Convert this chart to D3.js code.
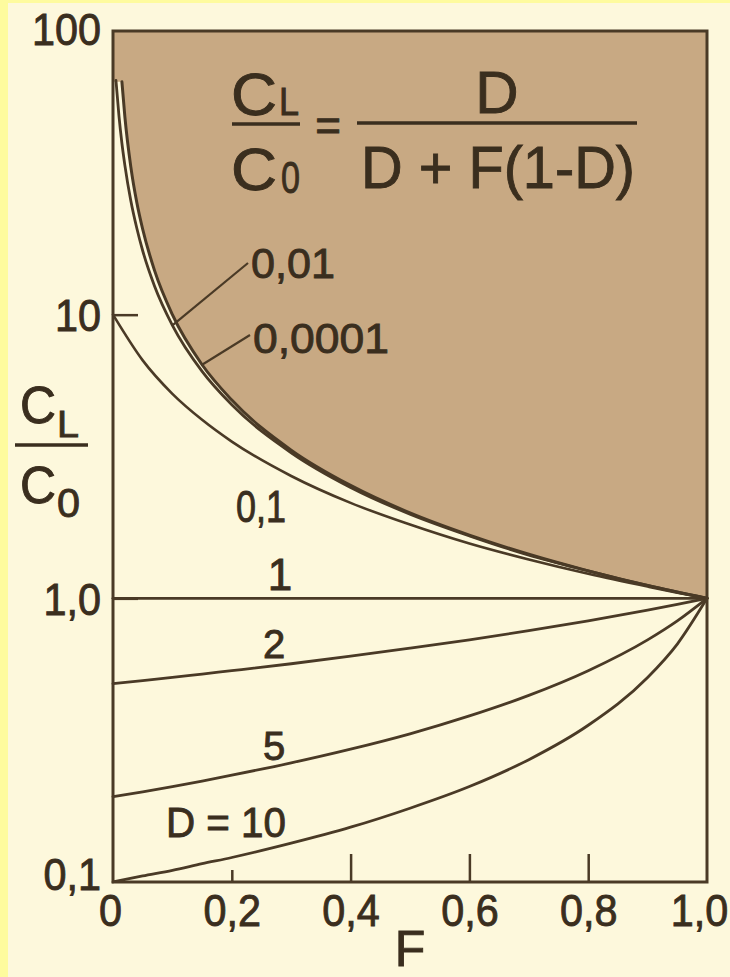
<!DOCTYPE html>
<html>
<head>
<meta charset="utf-8">
<script src="https://cdn.jsdelivr.net/npm/d3@7"></script>
<style>
  html, body { margin: 0; padding: 0; background: #fdf8dc; }
  svg { display: block; }
  text { font-family: "Liberation Sans", Arial, Helvetica, sans-serif; fill: #3a2e1e; stroke: #3a2e1e; stroke-width: 0.9px; }
</style>
</head>
<body>
<svg id="chart" width="730" height="977"></svg>
<script>
// Fraction of melt F on the x axis, enrichment C_L/C_0 on a log y axis
const xTicks = [0, 0.2, 0.4, 0.6, 0.8, 1.0];
const xTickLabels = ["0", "0,2", "0,4", "0,6", "0,8", "1,0"];
const yTicks = [0.1, 1, 10, 100];
const yTickLabels = ["0,1", "1,0", "10", "100"];

// Sample points along each curve (F, C_L/C_0)
const fGrid = [0, 0.05, 0.1, 0.15, 0.2, 0.3, 0.4, 0.5, 0.6, 0.7, 0.8, 0.9, 0.95, 1];
const fSteep01 = [0.005, 0.01, 0.015, 0.02, 0.03, 0.04, 0.05, 0.07, 0.1, 0.15, 0.2, 0.3, 0.4, 0.5, 0.6, 0.7, 0.8, 0.9, 1];
const fSteep0001 = [0.015, 0.02, 0.03, 0.04, 0.05, 0.07, 0.1, 0.15, 0.2, 0.3, 0.4, 0.5, 0.6, 0.7, 0.8, 0.9, 1];

const curveD0001 = [66.2, 49.8, 33.2, 24.9, 20.0, 14.3, 10.0, 6.66, 5.0, 3.33, 2.5, 2.0, 1.67, 1.43, 1.25, 1.11, 1.0];
const curveD001 = [66.9, 50.3, 40.2, 33.6, 25.2, 20.2, 16.8, 12.6, 9.17, 6.31, 4.81, 3.26, 2.46, 1.98, 1.66, 1.42, 1.25, 1.11, 1.0];
const curveD01 = [10, 6.90, 5.26, 4.26, 3.57, 2.70, 2.17, 1.82, 1.56, 1.37, 1.22, 1.10, 1.047, 1.0];
const curveD1 = [1, 1, 1, 1, 1, 1, 1, 1, 1, 1, 1, 1, 1, 1];
const curveD2 = [0.5, 0.513, 0.526, 0.541, 0.556, 0.588, 0.625, 0.667, 0.714, 0.769, 0.833, 0.909, 0.952, 1.0];
const curveD5 = [0.2, 0.208, 0.217, 0.227, 0.238, 0.263, 0.294, 0.333, 0.385, 0.455, 0.556, 0.714, 0.833, 1.0];
const curveD10 = [0.1, 0.105, 0.110, 0.116, 0.122, 0.137, 0.156, 0.182, 0.217, 0.270, 0.357, 0.526, 0.69, 1.0];

const zip = (fs, vs) => fs.map((f, i) => [f, vs[i]]);

const series = [
  { key: "0,0001", pts: zip(fSteep0001, curveD0001), w: 3 },
  { key: "0,01",   pts: zip(fSteep01, curveD001),   w: 2.8 },
  { key: "0,1",    pts: zip(fGrid, curveD01),       w: 2.6 },
  { key: "1",      pts: zip(fGrid, curveD1),        w: 2.8 },
  { key: "2",      pts: zip(fGrid, curveD2),        w: 2.8 },
  { key: "5",      pts: zip(fGrid, curveD5),        w: 2.8 },
  { key: "10",     pts: zip(fGrid, curveD10),       w: 2.8 }
];

const ink = "#4a3a26";
const tan = "#c8a983";

const svg = d3.select("#chart");
const W = 730, H = 977;
const m = { left: 113, right: 707, top: 31, bottom: 882 };

// page background with the yellow margin strips
svg.append("rect").attr("width", W).attr("height", H).attr("fill", "#fdf8dc");
svg.append("rect").attr("x", 0).attr("y", 0).attr("width", 8).attr("height", H).attr("fill", "#fefb9e");
svg.append("rect").attr("x", 0).attr("y", 0).attr("width", W).attr("height", 3).attr("fill", "#fefb9e");

const x = d3.scaleLinear().domain([0, 1]).range([m.left, m.right]);
const y = d3.scaleLog().domain([0.1, 100]).range([m.bottom, m.top]);

const line = d3.line().x(d => x(d[0])).y(d => y(d[1])).curve(d3.curveMonotoneX);

// shaded field above the D -> 0 limit curve
const limit = series[0].pts;
svg.append("path")
  .attr("d", "M" + x(0) + "," + y(100) +
        "L" + x(0) + "," + y(limit[0][1]) +
        "L" + line(limit).slice(1) +
        "L" + x(1) + "," + y(100) + "Z")
  .attr("fill", tan);

// curves
svg.append("g").selectAll("path").data(series).join("path")
  .attr("d", d => line(d.pts))
  .attr("fill", "none")
  .attr("stroke", ink)
  .attr("stroke-width", d => d.w)
  .attr("stroke-linejoin", "round")
  .attr("stroke-linecap", "round");

// plot frame
svg.append("rect")
  .attr("x", m.left).attr("y", m.top)
  .attr("width", m.right - m.left).attr("height", m.bottom - m.top)
  .attr("fill", "none").attr("stroke", ink).attr("stroke-width", 3);

// x axis
const xAxis = svg.append("g")
  .attr("transform", `translate(0,${m.bottom})`)
  .call(d3.axisBottom(x).tickValues(xTicks).tickFormat((d, i) => xTickLabels[i])
    .tickSize(-28).tickPadding(12));
xAxis.select(".domain").remove();
xAxis.selectAll(".tick line")
  .attr("stroke", ink).attr("stroke-width", 2.5)
  .attr("y2", d => (d === 0.2 ? -12 : -28))
  .style("display", d => (d === 0 || d === 1 ? "none" : null));
xAxis.selectAll(".tick text")
  .attr("font-size", 45)
  .attr("font-family", null)
  .attr("fill", null)
  .attr("transform", d => `translate(${d === 1 ? -8 : d === 0 ? -3 : 0},0) scale(0.92,1)`);

// y axis
const yAxis = svg.append("g")
  .attr("transform", `translate(${m.left},0)`)
  .call(d3.axisLeft(y).tickValues(yTicks).tickFormat((d, i) => yTickLabels[i])
    .tickSize(-25).tickPadding(13));
yAxis.select(".domain").remove();
yAxis.selectAll(".tick line")
  .attr("stroke", ink).attr("stroke-width", 2.5)
  .style("display", d => (d === 0.1 || d === 100 ? "none" : null));
yAxis.selectAll(".tick text")
  .attr("font-size", 45)
  .attr("font-family", null)
  .attr("fill", null)
  .attr("dy", "0.36em")
  .attr("transform", d => `translate(0,${d === 0.1 ? -9 : d === 100 ? -3 : 0}) scale(0.92,1)`);

// text helper
function txt(s, px, py, size, opts = {}) {
  const t = svg.append("text")
    .attr("x", px).attr("y", py)
    .attr("font-size", size)
    .attr("text-anchor", opts.anchor || "start")
    .text(s);
  if (opts.len) t.attr("textLength", opts.len).attr("lengthAdjust", "spacingAndGlyphs");
  return t;
}

// axis titles
txt("F", 410, 966, 50, { anchor: "middle" });
txt("C", 20, 423, 52, { len: 36 });
txt("L", 57, 437, 37, { len: 22 });
svg.append("line").attr("x1", 15).attr("x2", 88).attr("y1", 445).attr("y2", 445)
  .attr("stroke", "#3a2e1e").attr("stroke-width", 3.5);
txt("C", 20, 503, 52, { len: 36 });
txt("0", 57, 517, 40, { len: 23 });

// formula inside the shaded field
txt("C", 231, 115, 60, { len: 46 });
txt("L", 279, 115, 38, { len: 20 });
svg.append("line").attr("x1", 232).attr("x2", 300).attr("y1", 124).attr("y2", 124)
  .attr("stroke", "#3a2e1e").attr("stroke-width", 3.5);
txt("C", 231, 190, 60, { len: 46 });
txt("0", 281, 193, 44, { len: 19 });
txt("=", 328, 141, 44, { anchor: "middle" });
svg.append("line").attr("x1", 357).attr("x2", 637).attr("y1", 123).attr("y2", 123)
  .attr("stroke", "#3a2e1e").attr("stroke-width", 3.5);
txt("D", 497, 113, 60, { anchor: "middle" });
txt("D + F(1-D)", 361, 188, 60, { len: 274 });

// curve labels
const labelDefs = [
  { s: "0,01", x: 251, y: 278, size: 43, len: 84 },
  { s: "0,0001", x: 253, y: 353, size: 43, len: 136 },
  { s: "0,1", x: 236, y: 522, size: 44, len: 50 },
  { s: "1", x: 280, y: 590, size: 44, anchor: "middle" },
  { s: "2", x: 274, y: 658, size: 40, anchor: "middle" },
  { s: "5", x: 274, y: 760, size: 40, anchor: "middle" },
  { s: "D = 10", x: 166, y: 837, size: 42, len: 120 }
];
labelDefs.forEach(l => txt(l.s, l.x, l.y, l.size, { anchor: l.anchor, len: l.len }));

// leader lines from the small-D labels to their curves
const leaders = [
  { from: [248, 263], to: series[1].pts[8] },
  { from: [250, 335], to: series[0].pts[7] }
];
svg.append("g").selectAll("line").data(leaders).join("line")
  .attr("x1", d => d.from[0]).attr("y1", d => d.from[1])
  .attr("x2", d => x(d.to[0])).attr("y2", d => y(d.to[1]))
  .attr("stroke", ink).attr("stroke-width", 2.2);
</script>
</body>
</html>
